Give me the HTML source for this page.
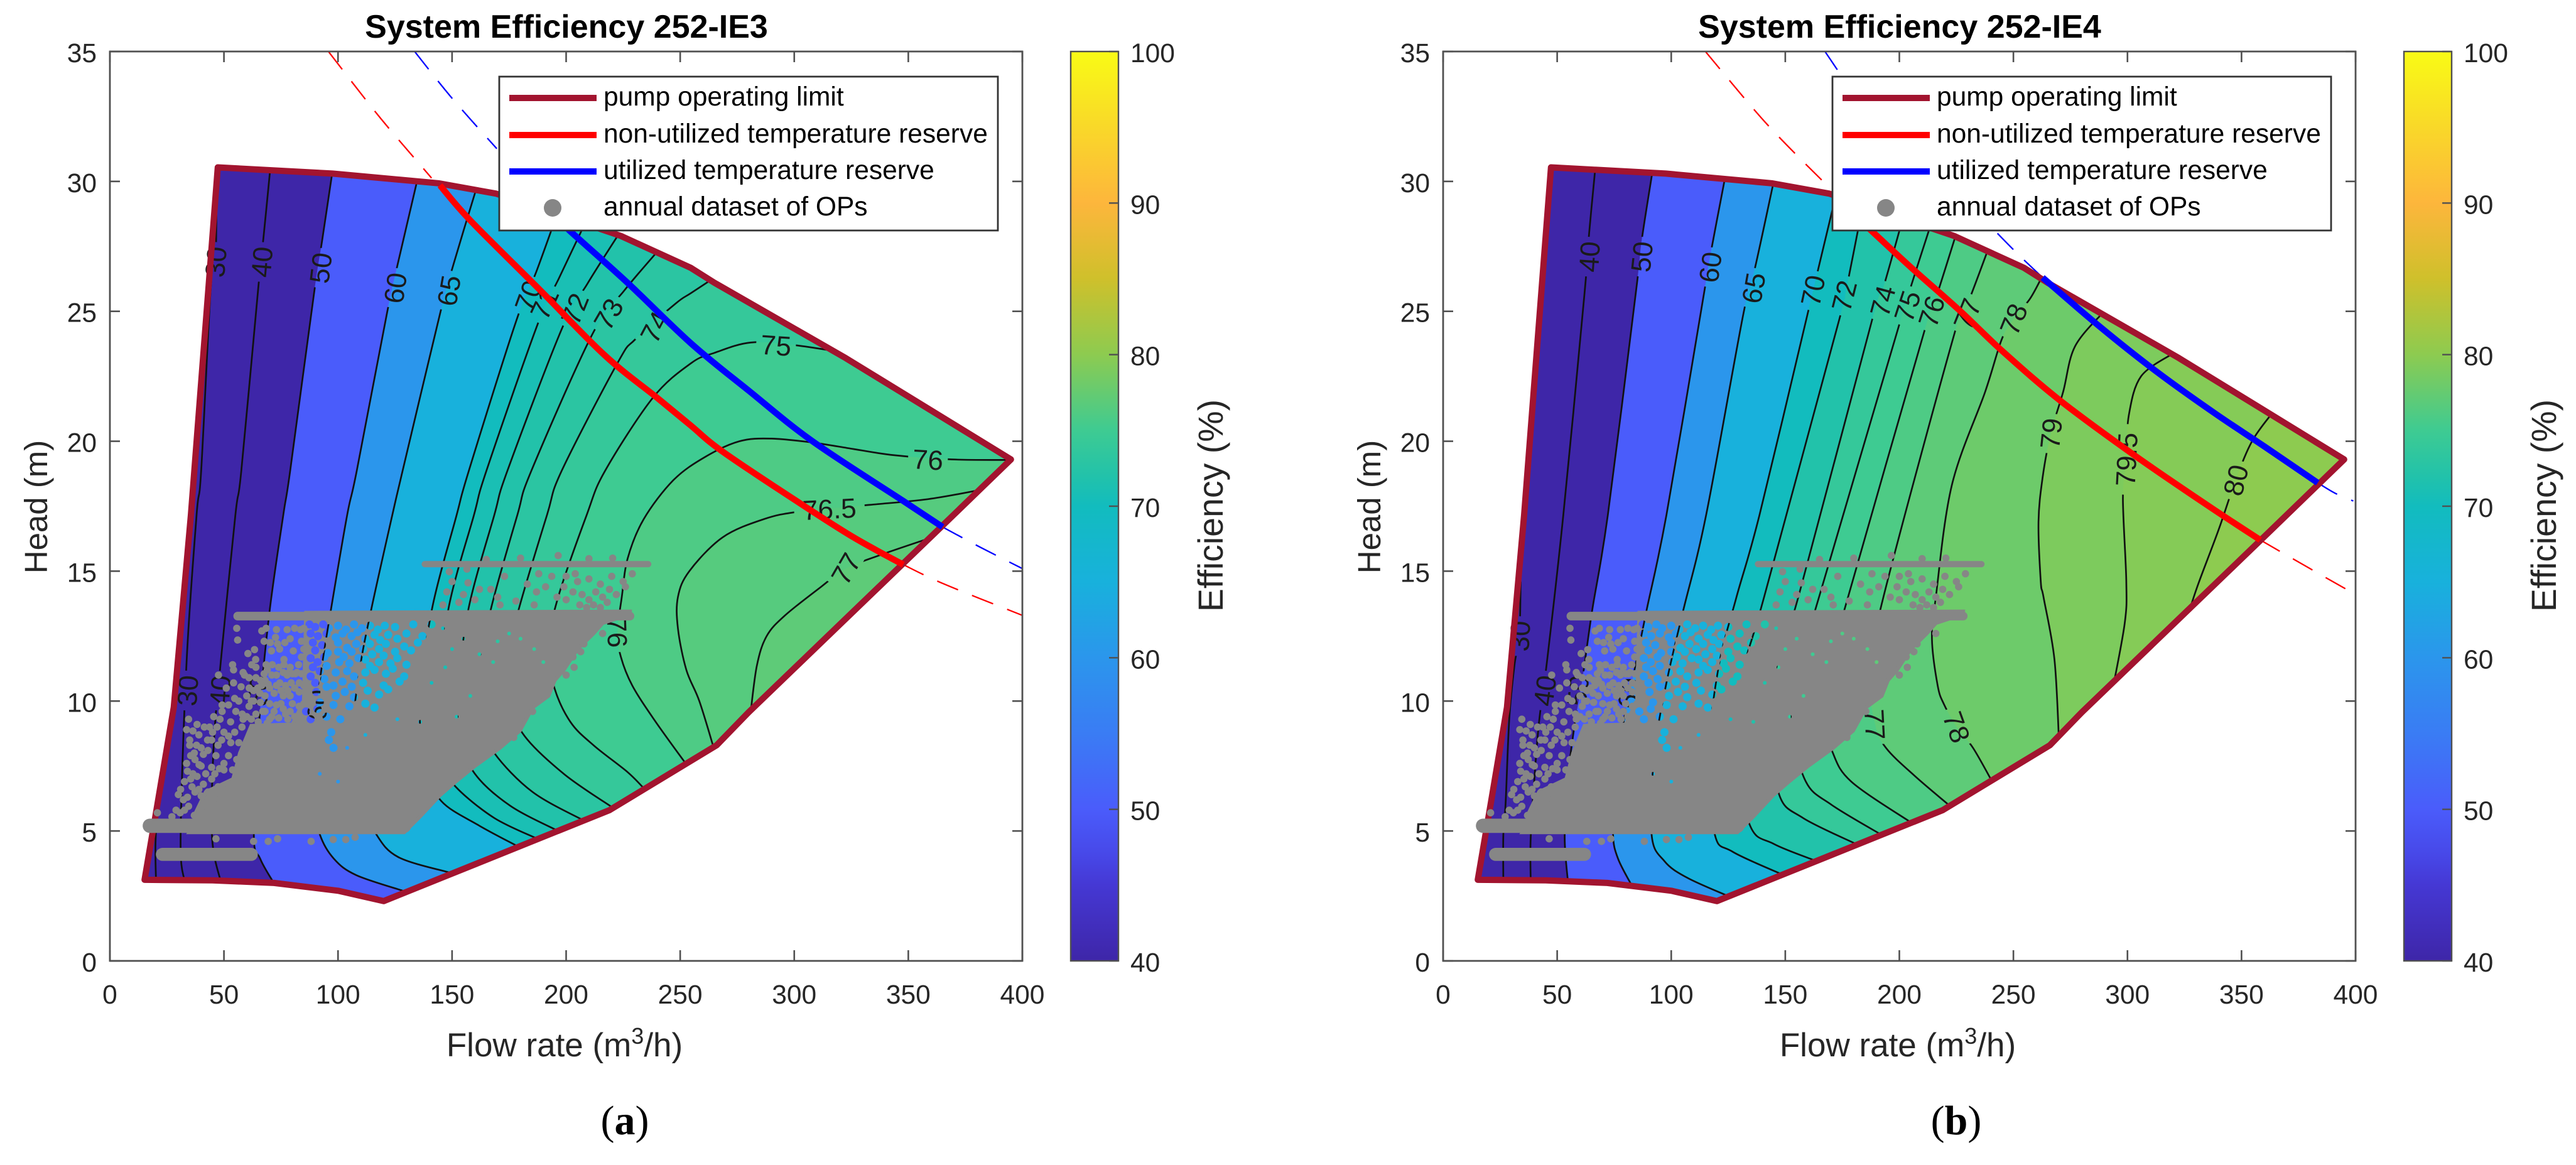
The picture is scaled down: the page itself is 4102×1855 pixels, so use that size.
<!DOCTYPE html>
<html lang="en">
<head>
<meta charset="utf-8">
<title>System Efficiency 252-IE3 and 252-IE4</title>
<style>
html,body{margin:0;padding:0;background:#fff;width:4102px;height:1855px;overflow:hidden;}
svg{display:block;font-family:"Liberation Sans",Arial,sans-serif;}
</style>
</head>
<body>
<svg id="figure" xmlns="http://www.w3.org/2000/svg" width="4102" height="1855" viewBox="0 0 4102 1855">
<rect width="4102" height="1855" fill="#fff"/>
<text x="995" y="1806" text-anchor="middle" font-family="Liberation Serif, serif" font-size="66" fill="#000">(<tspan font-weight="bold">a</tspan>)</text>
<text x="3115" y="1806" text-anchor="middle" font-family="Liberation Serif, serif" font-size="66" fill="#000">(<tspan font-weight="bold">b</tspan>)</text>
</svg>
<script>
const xTicks = [0,50,100,150,200,250,300,350,400];
const yTicks = [0,5,10,15,20,25,30,35];
const colorbarTicks = [40,50,60,70,80,90,100];
const colorStops = [[40,'#3e26a8'],[45,'#4538d4'],[47,'#4748e8'],[50,'#4a5cfb'],[55,'#3a7cf4'],[60,'#2b96ec'],[65,'#18b1dc'],[70,'#12bcbe'],[72,'#22c2aa'],[75,'#3ecb92'],[80,'#8dcb50'],[85,'#cfc02b'],[90,'#fdb63c'],[95,'#f9d829'],[100,'#f9fb15']];

const limitCurve = [[47.3,30.54],[97.6,30.3],[144,29.93],[169.3,29.53],[224,27.9],[254.7,26.67],[265,26.1],[322.6,23.2],[395,19.3],[362,16.5],[280,9.57],[266,8.3],[219,5.8],[120,2.3],[100,2.7],[72,3.0],[45,3.1],[15.2,3.12],[20.9,6.06],[28,9.76],[35.5,17.16]];

const levelsIE3 = [20,30,40,50,60,65,70,71,72,73,74,75,76,76.5,77];
const contoursIE3 = [
 [[21.5,6.6],[20,4.6],[20.2,3.1]],
 [[46.8,30.3],[46.3,26.9],[44.2,25.9],[40,18.85],[38,17.16],[33.6,11.5],[31,4.76],[32.6,3.1]],
 [[70.2,30.4],[67.4,27.9],[65,25.86],[57.6,18.85],[55,17.16],[48.6,11.5],[45.5,8.3],[44.8,4.76],[48.6,3.05]],
 [[97.6,30.4],[93,27.7],[89.5,25.7],[79,18.85],[76,17.16],[70,13.46],[65.9,9.76],[63.1,4.95],[65.9,3.93],[72.2,2.95]],
 [[134.9,30.1],[126.4,26.9],[121.5,24.94],[108.2,18.85],[104,17.16],[96.8,13.46],[92.6,11.15],[89.8,9],[88,6.5],[91.9,4.9],[98.2,3.93],[108,3.3],[128.4,2.7]],
 [[160.9,29.8],[150.7,26.83],[144.7,24.9],[128.3,18.85],[123.8,17.16],[114.4,13.46],[109.4,11.15],[106,8.5],[108,6.5],[116.2,4.95],[126.3,4],[148.8,3.4]],
 [[196.7,28.9],[186.8,26.5],[178,24.6],[157.3,18.85],[152,17.16],[141,13.46],[136,10],[138,7.5],[145.3,6.15],[161.4,5.23],[179,4.4]],
 [[210,28.7],[197,26.3],[187.5,24.5],[165,18.85],[159.6,17.16],[148.4,13.55],[144,10],[146,7.6],[151.6,6.7],[168.5,5.5],[187.4,4.7]],
 [[224,28.1],[209.3,26.06],[198,24.3],[174.2,18.85],[168.5,17.16],[157.2,13.55],[153,10.5],[154,8.5],[160,7.2],[175.5,5.97],[196.5,5.0]],
 [[241,27.4],[225.5,25.8],[211.4,24.1],[184.7,18.85],[178.6,17.16],[166.8,13.46],[162,11],[163,9.2],[168.5,8],[185.3,6.5],[207.8,5.4]],
 [[266.8,26.4],[254.7,25.7],[248,25.3],[230.4,23.93],[222.7,23.04],[198,18.85],[191.6,17.16],[179,13.46],[174,11.5],[175,10],[181.8,8.65],[199.4,7.17],[220.4,5.9]],
 [[322.6,23.4],[300,23.7],[281,23.8],[265,23.4],[254.7,23],[238,21.67],[217,18.85],[209,17.16],[196.5,14],[192,12],[195,10.47],[202,9.18],[212,8.3],[227,7.26],[234.5,6.6]],
 [[392.8,19.28],[369,19.3],[344,19.46],[326,19.7],[308,19.95],[290,20.1],[276,20],[261,19.4],[247,18.5],[234,17],[227,15.5],[224.4,14],[222.5,12.65],[224,11.7],[229,10.6],[238.7,9.27],[252.4,7.6]],
 [[380,18.1],[358.6,17.77],[333,17.55],[302.8,17.3],[286.6,17],[268.6,16.3],[254,15],[249,14],[249,12.8],[252.7,11.2],[258.4,10],[264.7,8.2]],
 [[360.4,16.3],[337,15.6],[322.6,15.1],[311.8,14.4],[296,13.3],[287.9,12.5],[283.6,11.36],[280.8,9.5]]
];
const labelValuesIE3 = ['30','40','50','60','65','70','71','72','73','74','75','76','76.5','77','76','30','40','50','60'];
const labelSpotsIE3 = [[46.3,26.9,-85],[66.5,26.9,-85],[92.3,26.67,-83],[125,25.9,-82],[148.5,25.8,-80],[183.3,25.6,-70],[190.4,25.3,-65],[203.7,25.1,-68],[218.5,24.9,-60],[238.8,24.4,-62],[292,23.7,4],[358.6,19.3,3],[315.4,17.4,-3],[322.6,15.1,-60],[222.5,12.65,88],[34,10.4,-86],[48.2,10.4,-86],[65,10.4,-84],[91,9.85,-84]];
const nonUtilizedIE3 = [[144.7,29.85],[158,28.5],[189,25.78],[217,23.3],[239.8,21.68],[254.7,20.6],[268.6,19.6],[301,17.7],[326,16.3],[347.8,15.25]];
const nonUtilizedDashIE3 = [[[95.8,35],[118,32.5],[141,30.13]],[[347.8,15.25],[365.8,14.5],[400,13.3]]];
const utilizedIE3 = [[192,28.9],[201.6,28.1],[226.9,26.1],[254.7,23.77],[280,21.95],[308,20],[347.8,17.7],[365,16.7]];
const utilizedDashIE3 = [[[133.6,35],[150,33.2],[169.6,31.26]],[[365,16.7],[382,15.9],[400,15.1]]];

const levelsIE4 = [30,40,50,60,65,70,72,74,75,76,77,78,79,79.5,80];
const contoursIE4 = [
 [[34,14.6],[33.4,12.5],[31.3,11.4],[29,9.3],[27.4,6.06],[26.4,4.86],[26.4,3.05]],
 [[66.6,30.4],[64,28],[62,25.7],[52.7,17.16],[45.5,11.5],[42.3,9.4],[40.5,7.6],[38.4,4.76],[38.4,3.05]],
 [[91.8,30.4],[87,27.7],[84.6,25.8],[72.2,17.16],[65.3,13.46],[61.1,10.87],[57.5,9],[54.7,7],[53.3,4.76],[54.7,3.05]],
 [[123.5,30.1],[117,27.1],[114,25.5],[97.9,17.16],[89.1,13.46],[84,11.24],[80.4,9.76],[79,9.1],[76,6.5],[74.5,4.86],[76.7,3.93],[82.7,2.9]],
 [[144.7,29.9],[136.8,26.7],[131.4,24.8],[115.3,17.16],[105.2,13.46],[97.9,10.7],[92.5,7.9],[91.4,4.86],[97,3.84],[107,3.2],[124.8,2.5]],
 [[172,29.4],[163,26.1],[159.5,24.8],[138.7,17.16],[128.6,14],[120.8,11.33],[116.5,8],[119,4.9],[126.9,4.2],[149.4,3.3]],
 [[183.6,28.9],[176.4,25.7],[174,24.8],[140.7,14],[131.8,11.2],[128,8],[134.6,5.2],[145,4.5],[163.4,3.85]],
 [[201.6,28.6],[192.6,25.8],[188,24.65],[155.7,14],[146.6,11.5],[144,9],[147.3,6.4],[157.8,5.5],[181,4.5]],
 [[214,28.4],[203.4,25.5],[200,24.5],[164.8,14],[155,11],[153,9],[159,6.9],[170.4,6],[192.2,4.85]],
 [[225,28.0],[216,25.5],[211.5,24.4],[177.5,14],[168,11],[166,9.5],[170.4,8.1],[178.9,6.9],[205.6,5.3]],
 [[239.4,27.5],[230.4,25.4],[225,24.4],[193,14],[187,11],[189.4,9.1],[194.3,8.18],[207,7.1],[221.7,6]],
 [[263.5,26.5],[257.4,25.5],[250,24.7],[244.8,23.9],[237.6,21.9],[223,18.3],[216,14],[214.3,12.4],[216.8,10.6],[219.6,9.87],[225.2,9],[232.3,8.2],[240.7,6.9]],
 [[289.8,25],[277,23.65],[271.8,21.9],[266.4,20.3],[262.8,18.6],[261,16.9],[262,14.6],[263.2,14],[268,11.6],[270,8.4]],
 [[320.4,23.4],[306,22.5],[300.6,21],[299.5,19.3],[298,17.8],[299.5,14.6],[298.8,13],[293.4,10.4]],
 [[363.6,21.1],[354.6,20],[347.4,18.5],[340,16.6],[331,14.5],[326.5,13.3]]
];
const labelValuesIE4 = ['40','50','60','65','70','72','74','75','76','77','78','79','79.5','80','77','78','30','40','50','60'];
const labelSpotsIE4 = [[64,27.1,-86],[87,27.1,-84],[117,26.7,-82],[136,25.9,-80],[162,25.8,-78],[175.7,25.6,-76],[192.6,25.4,-75],[203.4,25.2,-72],[214,25,-72],[229.7,24.9,-68],[250,24.7,-68],[266.4,20.3,-84],[299.5,19.3,-87],[347.4,18.5,-76],[189.4,9.1,87],[225.2,9,70],[33.5,12.5,-87],[44.5,10.4,-82],[59,10.4,-84],[81.5,10.3,-80]];
const nonUtilizedIE4 = [[181,28.65],[189,28],[205,26.7],[226.8,25],[244.8,23.5],[270,21.6],[302.4,19.5],[334.8,17.55],[358.2,16.2]];
const nonUtilizedDashIE4 = [[[115,35],[142,32.2],[170,29.7]],[[358.2,16.2],[380,15.1],[400,14.1]]];
const utilizedIE4 = [[262.8,26.3],[288,24.4],[313.2,22.65],[338.4,21.07],[360,19.8],[383.4,18.4]];
const utilizedDashIE4 = [[[167.4,35],[172.8,34.3]],[[243,28],[252,27.2],[262.8,26.3]],[[383.4,18.4],[391,18],[399,17.7]]];

const opSolidEnvelope = [[35,4.95],[129,4.95],[136,5.56],[144.5,6.36],[151.6,6.9],[160,7.5],[171,8.2],[179.7,8.86],[185.3,9.75],[192.3,10.2],[195,10.8],[199,11.2],[205,12],[212,12.6],[216,13],[228,13.35],[228,13.45],[86,13.4],[85,10],[80,9.1],[62,9.05],[57,8],[54,7],[42,6.5],[37.6,5.7],[37,5.2]];
const opCloudGaps = [
 [87.5,12.95],[90,12.85],[93.5,12.95],[96,12.8],[100,12.9],[103.5,12.75],[107,12.95],[110.5,12.8],[114,12.9],[117.5,12.75],[120.5,12.9],[125,12.85],[133,12.95],[141,12.95],
 [88,12.6],[91.2,12.5],[95,12.6],[99,12.45],[102,12.6],[106,12.5],[108.5,12.65],[112,12.4],[116,12.55],[118.5,12.35],[122,12.55],[126,12.4],[130,12.6],[137,12.5],
 [89,12.25],[93,12.15],[100,12.25],[104,12.05],[108,12.2],[111,12],[114,12.2],[118,12],[121,12.2],[129,12.1],[135,12.25],
 [90,11.95],[95.5,11.85],[100,11.9],[102.5,11.7],[106,11.9],[109,11.65],[115,11.8],[120,11.75],[125,11.9],[132,11.95],
 [88,11.65],[91,11.5],[94,11.7],[100.5,11.5],[105,11.45],[112,11.6],[114,11.35],[118,11.5],[123,11.45],[126,11.65],[130,11.4],
 [89,11.3],[92,11.15],[95,11.35],[99,11.1],[104,11.15],[107,10.95],[112,11.1],[116,11.2],[121,11.05],[124,11.25],[129,10.95],
 [88,10.95],[90,10.7],[94,10.85],[98,10.6],[102,10.75],[106,10.55],[111,10.7],[120,10.6],[127,10.75],
 [90.5,10.35],[95,10.55],[99,10.2],[103,10.35],[107,10.15],[113,10.4],[118,10.25],[122,10.45],
 [92,9.95],[98,9.85],[105,9.8],[112,9.9],[116,9.75],
 [95,9.4],[101,9.3],[86,9.6],[88,9.3],[91,9.7],[96,8.5],[98,8.2],[97,8.8]
];
const opCloudSpecks = [[146,12.8],[150,12],[155,12.4],[162,11.8],[170,12.3],[175,12.6],[168,11.5],[141,10.7],[158,10.2],[147,11.3],[180,12.4],[186,12],[190,11.5],[152,9.4],[136,9.2],[126,9.3],[112,8.7],[104,8.2],[92,7.2],[100,6.9]];
const opBandStarts = [17.5,56,138,23];
const opBandEnds = [129,228,236,62];
const opBandHeads = [5.2,13.27,15.27,4.1];
const opBandThickness = [0.55,0.33,0.24,0.5];
const opScatter = [
 [55.6,12.8],[56,12.35],[60.5,11.83],[63.4,11.98],[63.9,11.6],[62.2,11.4],[53.8,11.4],[54.2,11.2],[58.4,11.1],[47.6,11],[54.2,10.7],[51,10.5],[57.5,10.55],[54.7,10.1],[56.5,10],[61.1,10.5],[63,10.4],[65.7,10.3],
 [66.6,12.7],[68.5,12.8],[73,12.75],[77.7,12.75],[83.6,12.75],[67.6,12.3],[70.3,12.25],[72.6,12.45],[76.7,12.25],[84,12.3],[74.4,12],[70.8,11.93],[80.4,11.93],[76.3,11.6],[76.3,11.4],[68.5,11.4],[71.2,11.4],[82.7,11.4],[67.6,11.05],[73,11],[77.7,11],[81.3,11.05],[69.4,10.65],[74.5,10.7],[79.5,10.7],[64.8,10.5],[72,10.3],[76,10.2],[78,10.4],[68,10.2],[70,9.9],[66,9.95],[73,9.85],[76,9.7],[80,9.9],[83,10.35],[61,9.8],[64,9.5],[67,9.6],[71,9.4],[74,9.35],[78,9.3],[62,9.3],[69,9.15],[76,11.1],[78.5,11.1],[80,11.05],[82,11.1],[84,11.05],
 [59,11],[61,10.9],[60,10.2],[62,10],[64,10.9],[66,10.8],[68,10.8],[70,10.5],[71,11],[73,10.6],[75,10.4],[77,10.6],[79,10.2],[81,10.5],[83,10.7],[85,10.6],[58,9.5],[60,9.4],[63,10],[65,9.2],[68,9.6],[70,9.3],[72,9.6],[75,9.9],[77,9.5],[79,9.6],[81,9.4],[83,9.8],[85,9.9],[66.5,10.6],[69,11.2],[74,11.3],[79,11.3],[64,11.3],[84,11.7],[85,12.8],[85,12],[73.5,12.2],[79,12.4],[81,12.8],
 [34.5,9.3],[33.6,8.9],[38.2,9.1],[36.4,8.85],[35,8.5],[35,8.3],[41.4,9],[43.7,9],[45.5,9.4],[48.3,9.3],[49.2,9.85],[52,9.85],[49.2,9.6],[52.9,9.2],[55.2,9.6],[58.4,9.3],[57.9,9],[42.8,8.5],[44.6,8.5],[41,7.95],[35.4,7.9],[33.6,7.6],[37.3,7.75],[39.1,7.55],[46.5,7.9],[50,8.8],[52,8.65],[54.7,8.8],[56.5,8.4],[47.4,8.3],[52,7.9],[55.6,7.75],[44.6,7.45],[36.4,7.2],[32.7,6.9],[35.4,7],[38.2,7.1],[44.6,7],[50,7.35],[53.8,7.35],[41,6.8],[47.4,6.7],[52,6.8],[37.3,6.5],[40,6.35],[32.2,6.2],[34.5,5.95],[29,5.8],[32.7,5.8],[27.2,5.55],[30.8,5.7],[20.8,5.7],[44,6.2],[48,6.2],[40,5.9],[43,5.8],[37,5.6],
 [39,8.7],[38,8.3],[40,8.2],[37,8],[43,8.1],[45,8.8],[49,8.5],[47,9],[53,8.4],[50,7.6],[48,7.4],[42,7.2],[40,7.5],[34,7.3],[30,6.4],[36,6.7],[39,6.6],[43,6.5],[46,7.2],[34,6.3],[31,6.6],
 [46.5,4.7],[63,4.6],[69.4,4.6],[73.5,4.7],[88.2,4.6],[97.9,4.67],[103.4,4.67],[107.5,4.76],
 [148.8,14.98],[156.5,15.08],[173,14.8],[188,14.9],[193.7,14.8],[200,14.8],[150,14.6],[157,14.55],[162,14.3],[147.7,14.2],[155,14.1],[167,14.3],[170,14],[183,14.5],[187,14.2],[199,14.4],[205,14.6],[210,14.7],[215,14.5],[220,14.8],[225,14.6],[229,14.9],[146,13.7],[153,13.8],[160,13.9],[171,13.7],[178,13.85],[186,13.7],[196,14],[200,13.9],[203,14.2],[207,14.1],[210,13.9],[213,14.2],[216,14],[219,14.3],[222,14.1],[206,13.7],[209,13.6],[212,13.7],[215,13.6],[218,13.8],[204,14.9],[191,14.4],[226,14.4],
 [196.5,15.6],[220.4,15.5],[165,15.45],[180,15.5],[210,15.48],
 [207.8,12.2],[212,13],[216,12.6],[203,11.7],[206.4,11.9],[200,11],[203.5,11.3],[185.3,9.6],[177,8.6],[172.7,8.45]
];

const NS = 'http://www.w3.org/2000/svg';
const figure = document.getElementById('figure');
const AX = {left:175,right:1628,top:82,bottom:1530,xMax:400,yMax:35};
const CB = {left:1705,right:1781,min:40,max:100};
const LABEL_SIZE = 44;

function mk(tag,parent){const e=document.createElementNS(NS,tag);parent.appendChild(e);return e;}
function xAxis(q){return AX.left+q*(AX.right-AX.left)/AX.xMax;}
function yAxis(h){return AX.bottom-h*(AX.bottom-AX.top)/AX.yMax;}
function cbAxis(v){return AX.bottom-(v-CB.min)*(AX.bottom-AX.top)/(CB.max-CB.min);}
function hex(c){return [parseInt(c.slice(1,3),16),parseInt(c.slice(3,5),16),parseInt(c.slice(5,7),16)];}
function colorOf(level){
  const v=Math.max(CB.min,Math.min(CB.max,level));
  for(let i=1;i<colorStops.length;i++){
    if(v<=colorStops[i][0]){
      const a=colorStops[i-1],b=colorStops[i],t=(v-a[0])/(b[0]-a[0]),p=hex(a[1]),q=hex(b[1]);
      return 'rgb('+[0,1,2].map(k=>Math.round(p[k]+(q[k]-p[k])*t)).join(',')+')';
    }
  }
  return colorStops[colorStops.length-1][1];
}
function straight(pts){return pts.map((p,i)=>(i?'L':'M')+xAxis(p[0]).toFixed(1)+' '+yAxis(p[1]).toFixed(1)).join(' ');}
function smooth(pts){
  const P=pts.map(p=>[xAxis(p[0]),yAxis(p[1])]);
  let d='M'+P[0][0].toFixed(1)+' '+P[0][1].toFixed(1);
  for(let i=0;i<P.length-1;i++){
    const a=P[Math.max(i-1,0)],b=P[i],c=P[i+1],e=P[Math.min(i+2,P.length-1)];
    d+=' C'+(b[0]+(c[0]-a[0])/6).toFixed(1)+' '+(b[1]+(c[1]-a[1])/6).toFixed(1)+' '+(c[0]-(e[0]-b[0])/6).toFixed(1)+' '+(c[1]-(e[1]-b[1])/6).toFixed(1)+' '+c[0].toFixed(1)+' '+c[1].toFixed(1);
  }
  return d;
}

function drawPanel(p){
  const g=mk('g',figure);
  g.setAttribute('transform','translate('+p.dx+' 0)');
  
  

  const defs=mk('defs',g);
  const clip=mk('clipPath',defs);
  clip.setAttribute('id',p.id+'-clip');
  const clipShape=mk('path',clip);
  clipShape.setAttribute('d',straight(limitCurve)+' Z');
  const plotClip=mk('clipPath',defs);
  plotClip.setAttribute('id',p.id+'-plot');
  const plotRect=mk('rect',plotClip);
  plotRect.setAttribute('x',AX.left);
  plotRect.setAttribute('y',AX.top);
  plotRect.setAttribute('width',AX.right-AX.left);
  plotRect.setAttribute('height',AX.bottom-AX.top);
  const grad=mk('linearGradient',defs);
  grad.setAttribute('id',p.id+'-cmap');
  grad.setAttribute('x1','0');grad.setAttribute('y1','1');grad.setAttribute('x2','0');grad.setAttribute('y2','0');
  colorStops.forEach(s=>{
    const st=mk('stop',grad);
    st.setAttribute('offset',((s[0]-CB.min)/(CB.max-CB.min)).toFixed(4));
    st.setAttribute('stop-color',s[1]);
  });
  const mask=mk('mask',defs);
  mask.setAttribute('id',p.id+'-gaps');
  mask.setAttribute('maskUnits','userSpaceOnUse');
  mask.setAttribute('x',AX.left);mask.setAttribute('y',AX.top);mask.setAttribute('width',AX.right-AX.left);mask.setAttribute('height',AX.bottom-AX.top);
  const maskBase=mk('rect',mask);
  maskBase.setAttribute('x',AX.left);maskBase.setAttribute('y',AX.top);maskBase.setAttribute('width',AX.right-AX.left);maskBase.setAttribute('height',AX.bottom-AX.top);
  maskBase.setAttribute('fill','#fff');
  p.labelValues.forEach((txt,i)=>{
    const s=p.labelSpots[i];
    const w=txt.length*LABEL_SIZE*0.56+14,h=LABEL_SIZE*0.85;
    const r=mk('rect',mask);
    r.setAttribute('x',-w/2);r.setAttribute('y',-h/2);r.setAttribute('width',w);r.setAttribute('height',h);
    r.setAttribute('fill','#000');
    r.setAttribute('transform','translate('+xAxis(s[0]).toFixed(1)+' '+yAxis(s[1]).toFixed(1)+') rotate('+s[2]+')');
  });
  const cloudMask=mk('mask',defs);
  cloudMask.setAttribute('id',p.id+'-cloud');
  cloudMask.setAttribute('maskUnits','userSpaceOnUse');
  cloudMask.setAttribute('x',AX.left);cloudMask.setAttribute('y',AX.top);cloudMask.setAttribute('width',AX.right-AX.left);cloudMask.setAttribute('height',AX.bottom-AX.top);
  const cloudBase=mk('rect',cloudMask);
  cloudBase.setAttribute('x',AX.left);cloudBase.setAttribute('y',AX.top);cloudBase.setAttribute('width',AX.right-AX.left);cloudBase.setAttribute('height',AX.bottom-AX.top);
  cloudBase.setAttribute('fill','#fff');
  opCloudGaps.forEach(pt=>{
    const c=mk('circle',cloudMask);
    c.setAttribute('cx',xAxis(pt[0]).toFixed(1));c.setAttribute('cy',yAxis(pt[1]).toFixed(1));c.setAttribute('r','6.5');c.setAttribute('fill','#000');
  });
  opCloudSpecks.forEach(pt=>{
    const c=mk('circle',cloudMask);
    c.setAttribute('cx',xAxis(pt[0]).toFixed(1));c.setAttribute('cy',yAxis(pt[1]).toFixed(1));c.setAttribute('r','3');c.setAttribute('fill','#000');
  });

  const fills=mk('g',g);
  fills.setAttribute('clip-path','url(#'+p.id+'-clip)');
  
  
  const base=mk('path',fills);
  base.setAttribute('d',straight(limitCurve)+' Z');
  base.setAttribute('fill',colorOf(p.levels[0]));
  
  
  p.levels.forEach((lv,i)=>{
    const pts=p.contours[i],top=pts[0];
    const f=mk('path',fills);
    f.setAttribute('d',smooth(pts)+' L'+xAxis(430)+' '+yAxis(-7)+' L'+xAxis(430)+' '+yAxis(top[1])+' Z');
    f.setAttribute('fill',colorOf(lv));
    
    
  });
  const lines=mk('g',fills);
  lines.setAttribute('mask','url(#'+p.id+'-gaps)');
  
  
  p.levels.forEach((lv,i)=>{
    const c=mk('path',lines);
    c.setAttribute('d',smooth(p.contours[i]));
    c.setAttribute('fill','none');
    c.setAttribute('stroke','#111');
    c.setAttribute('stroke-width','2.7');
    
    
  });
  p.labelValues.forEach((txt,i)=>{
    const s=p.labelSpots[i];
    const t=mk('text',g);
    t.textContent=txt;
    t.setAttribute('transform','translate('+xAxis(s[0]).toFixed(1)+' '+yAxis(s[1]).toFixed(1)+') rotate('+s[2]+')');
    t.setAttribute('text-anchor','middle');
    t.setAttribute('dy','0.36em');
    t.setAttribute('font-size',LABEL_SIZE);
    t.setAttribute('fill','#1a1a1a');
    
    
  });

  const curves=mk('g',g);
  curves.setAttribute('clip-path','url(#'+p.id+'-plot)');
  
  
  p.redDash.forEach(seg=>{
    const d=mk('path',curves);
    d.setAttribute('d',smooth(seg));
    d.setAttribute('fill','none');d.setAttribute('stroke','#ff0000');d.setAttribute('stroke-width','2.3');d.setAttribute('stroke-dasharray','36 24');
    
    
  });
  p.blueDash.forEach(seg=>{
    const d=mk('path',curves);
    d.setAttribute('d',smooth(seg));
    d.setAttribute('fill','none');d.setAttribute('stroke','#0000ff');d.setAttribute('stroke-width','2.3');d.setAttribute('stroke-dasharray','36 24');
    
    
  });

  const limit=mk('path',g);
  limit.setAttribute('d',straight(limitCurve)+' Z');
  limit.setAttribute('fill','none');limit.setAttribute('stroke','#a2142f');limit.setAttribute('stroke-width','10');limit.setAttribute('stroke-linejoin','round');
  
  

  const red=mk('path',g);
  red.setAttribute('d',smooth(p.red));
  red.setAttribute('fill','none');red.setAttribute('stroke','#ff0000');red.setAttribute('stroke-width','10');
  
  
  const blue=mk('path',g);
  blue.setAttribute('d',smooth(p.blue));
  blue.setAttribute('fill','none');blue.setAttribute('stroke','#0000ff');blue.setAttribute('stroke-width','10');
  
  

  const ops=mk('g',g);
  ops.setAttribute('fill','#868686');
  
  
  const solid=mk('path',ops);
  solid.setAttribute('d',straight(opSolidEnvelope)+' Z');
  solid.setAttribute('stroke','#868686');solid.setAttribute('stroke-width','6');
  solid.setAttribute('mask','url(#'+p.id+'-cloud)');
  
  
  opBandHeads.forEach((h,i)=>{
    const b=mk('line',ops);
    b.setAttribute('x1',xAxis(opBandStarts[i]));b.setAttribute('x2',xAxis(opBandEnds[i]));
    b.setAttribute('y1',yAxis(h));b.setAttribute('y2',yAxis(h));
    b.setAttribute('stroke','#868686');b.setAttribute('stroke-linecap','round');
    b.setAttribute('stroke-width',(opBandThickness[i]*(AX.bottom-AX.top)/AX.yMax).toFixed(1));
    
    
  });
  opScatter.forEach(pt=>{
    const d=mk('circle',ops);
    d.setAttribute('cx',xAxis(pt[0]).toFixed(1));d.setAttribute('cy',yAxis(pt[1]).toFixed(1));d.setAttribute('r','5.8');
    
    
  });

  const box=mk('rect',g);
  box.setAttribute('x',AX.left);box.setAttribute('y',AX.top);box.setAttribute('width',AX.right-AX.left);box.setAttribute('height',AX.bottom-AX.top);
  box.setAttribute('fill','none');box.setAttribute('stroke','#505050');box.setAttribute('stroke-width','2.8');
  
  

  xTicks.forEach(v=>{
    [[AX.bottom,AX.bottom-17],[AX.top,AX.top+17]].forEach(e=>{
      const t=mk('line',g);
      t.setAttribute('x1',xAxis(v));t.setAttribute('x2',xAxis(v));t.setAttribute('y1',e[0]);t.setAttribute('y2',e[1]);
      t.setAttribute('stroke','#505050');t.setAttribute('stroke-width','2.6');
      
      
    });
    const l=mk('text',g);
    l.textContent=v;
    l.setAttribute('x',xAxis(v));l.setAttribute('y',1598);l.setAttribute('text-anchor','middle');l.setAttribute('font-size','42.5');l.setAttribute('fill','#262626');
    
    
  });
  yTicks.forEach(v=>{
    [[AX.left,AX.left+16],[AX.right,AX.right-16]].forEach(e=>{
      const t=mk('line',g);
      t.setAttribute('y1',yAxis(v));t.setAttribute('y2',yAxis(v));t.setAttribute('x1',e[0]);t.setAttribute('x2',e[1]);
      t.setAttribute('stroke','#505050');t.setAttribute('stroke-width','2.6');
      
      
    });
    const l=mk('text',g);
    l.textContent=v;
    l.setAttribute('x',154);l.setAttribute('y',yAxis(v)+17);l.setAttribute('text-anchor','end');l.setAttribute('font-size','42.5');l.setAttribute('fill','#262626');
    
    
  });

  const title=mk('text',g);
  title.textContent=p.title;
  title.setAttribute('x',902);title.setAttribute('y',60);title.setAttribute('text-anchor','middle');title.setAttribute('font-size','52');title.setAttribute('font-weight','bold');title.setAttribute('fill','#000');
  
  

  const xl=mk('text',g);
  xl.setAttribute('x',899);xl.setAttribute('y',1682);xl.setAttribute('text-anchor','middle');xl.setAttribute('font-size','53');xl.setAttribute('fill','#262626');
  
  
  xl.appendChild(document.createTextNode('Flow rate (m'));
  const sup=mk('tspan',xl);
  sup.textContent='3';
  sup.setAttribute('dy','-20');sup.setAttribute('font-size','36');
  const rest=mk('tspan',xl);
  rest.textContent='/h)';
  rest.setAttribute('dy','20');

  const yl=mk('text',g);
  yl.textContent='Head (m)';
  yl.setAttribute('transform','translate(75 807) rotate(-90)');
  yl.setAttribute('text-anchor','middle');yl.setAttribute('font-size','51');yl.setAttribute('fill','#262626');
  
  

  const bar=mk('rect',g);
  bar.setAttribute('x',CB.left);bar.setAttribute('y',AX.top);bar.setAttribute('width',CB.right-CB.left);bar.setAttribute('height',AX.bottom-AX.top);
  bar.setAttribute('fill','url(#'+p.id+'-cmap)');bar.setAttribute('stroke','#505050');bar.setAttribute('stroke-width','2.4');
  
  
  colorbarTicks.forEach(v=>{
    const t=mk('line',g);
    t.setAttribute('x1',CB.right);t.setAttribute('x2',CB.right-15);t.setAttribute('y1',cbAxis(v));t.setAttribute('y2',cbAxis(v));
    t.setAttribute('stroke','#505050');t.setAttribute('stroke-width','2.4');
    
    
    const l=mk('text',g);
    l.textContent=v;
    l.setAttribute('x',1800);l.setAttribute('y',cbAxis(v)+17);l.setAttribute('font-size','42.5');l.setAttribute('fill','#262626');
    
    
  });
  const cl=mk('text',g);
  cl.textContent='Efficiency (%)';
  cl.setAttribute('transform','translate(1947 805) rotate(-90)');
  cl.setAttribute('text-anchor','middle');cl.setAttribute('font-size','55.5');cl.setAttribute('fill','#262626');
  
  

  const lg=mk('g',g);
  
  
  const lb=mk('rect',lg);
  lb.setAttribute('x',795);lb.setAttribute('y',122);lb.setAttribute('width',794);lb.setAttribute('height',245);
  lb.setAttribute('fill','#fff');lb.setAttribute('stroke','#333');lb.setAttribute('stroke-width','2.8');
  
  
  const swatches=[['#a2142f',156,'pump operating limit','legend-entry-pump-limit'],['#ff0000',215,'non-utilized temperature reserve','legend-entry-non-utilized'],['#0000ff',273,'utilized temperature reserve','legend-entry-utilized']];
  swatches.forEach(s=>{
    const ln=mk('line',lg);
    ln.setAttribute('x1',811);ln.setAttribute('x2',950);ln.setAttribute('y1',s[1]);ln.setAttribute('y2',s[1]);
    ln.setAttribute('stroke',s[0]);ln.setAttribute('stroke-width','10');
    
    
    const tx=mk('text',lg);
    tx.textContent=s[2];
    tx.setAttribute('x',961);tx.setAttribute('y',s[1]+12);tx.setAttribute('font-size','42.5');tx.setAttribute('fill','#000');
    
    
  });
  const mark=mk('circle',lg);
  mark.setAttribute('cx',880);mark.setAttribute('cy',331);mark.setAttribute('r','14');mark.setAttribute('fill','#868686');
  
  
  const mt=mk('text',lg);
  mt.textContent='annual dataset of OPs';
  mt.setAttribute('x',961);mt.setAttribute('y',343);mt.setAttribute('font-size','42.5');mt.setAttribute('fill','#000');
  
  
}

drawPanel({id:'ie3',dx:0,title:'System Efficiency 252-IE3',levels:levelsIE3,contours:contoursIE3,labelValues:labelValuesIE3,labelSpots:labelSpotsIE3,red:nonUtilizedIE3,redDash:nonUtilizedDashIE3,blue:utilizedIE3,blueDash:utilizedDashIE3});
drawPanel({id:'ie4',dx:2123,title:'System Efficiency 252-IE4',levels:levelsIE4,contours:contoursIE4,labelValues:labelValuesIE4,labelSpots:labelSpotsIE4,red:nonUtilizedIE4,redDash:nonUtilizedDashIE4,blue:utilizedIE4,blueDash:utilizedDashIE4});
</script>
</body>
</html>
